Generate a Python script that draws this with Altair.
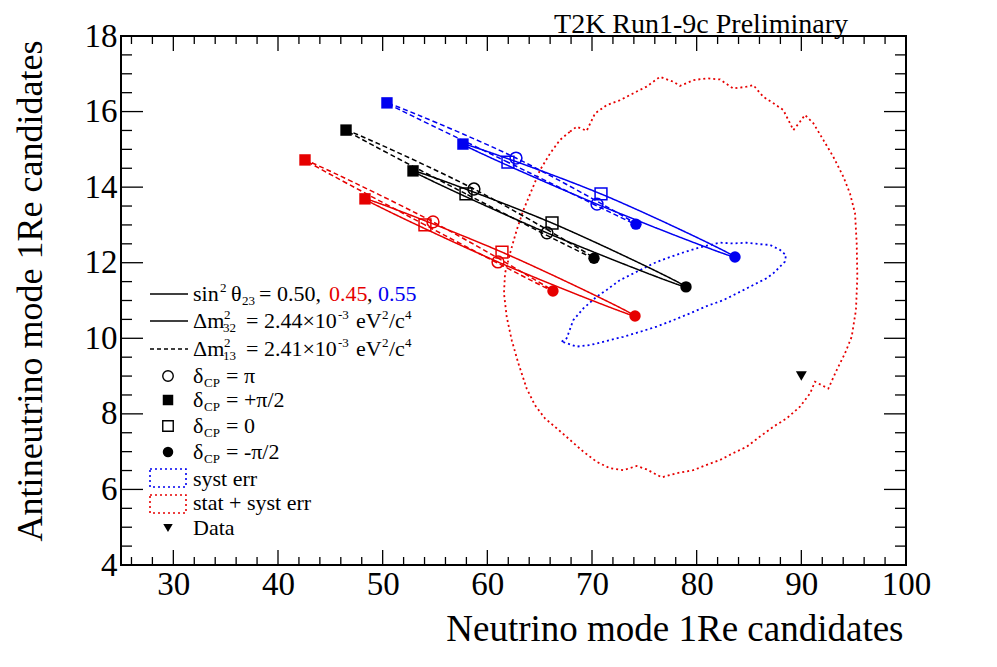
import altair as alt
import pandas as pd

RED = "#e60000"
BLUE = "#0000f0"
FONT = "Liberation Serif"

# ---------------- data ----------------
theta_labels = ["0.45", "0.50", "0.55"]
dcp_labels = ["-π/2", "0", "+π/2", "π"]

# solid: Δm²32 = 2.44e-3 ; dashed: Δm²13 = 2.41e-3   (order: -π/2, 0, +π/2, π)
nh_045_x = [74.11, 61.40, 48.31, 61.02]
nh_045_y = [10.59, 12.28, 13.69, 12.02]
ih_045_x = [66.27, 54.04, 42.58, 54.81]
ih_045_y = [11.25, 13.00, 14.72, 13.08]
nh_050_x = [78.98, 66.18, 52.90, 65.70]
nh_050_y = [11.36, 13.05, 14.43, 12.79]
ih_050_x = [70.19, 57.96, 46.50, 58.72]
ih_050_y = [12.12, 13.82, 15.51, 13.95]
nh_055_x = [83.66, 70.86, 57.67, 70.48]
nh_055_y = [12.15, 13.82, 15.14, 13.55]
ih_055_x = [74.20, 61.97, 50.41, 62.74]
ih_055_y = [13.02, 14.66, 16.23, 14.77]

stat_syst_x = [67.90, 68.54, 69.49, 70.29, 71.40, 72.68, 74.27, 75.22, 76.50, 77.77, 78.41, 79.68,
               80.96, 82.23, 83.50, 84.78, 85.41, 86.37, 87.33, 88.28, 89.24, 89.87, 90.35, 91.15,
               92.10, 93.06, 94.01, 94.65, 95.13, 95.29, 95.35, 95.22, 94.81, 94.17, 93.38, 92.58,
               91.94, 91.31, 90.83, 89.87, 88.60, 87.33, 86.05, 84.78, 83.50, 82.23, 80.96, 79.68,
               78.09, 76.66, 75.22, 74.27, 72.99, 71.72, 70.45, 69.17, 67.90, 66.62, 65.51, 64.55,
               63.76, 62.96, 62.33, 61.85, 61.59, 61.69, 62.17, 62.80, 63.44, 64.24, 65.03, 65.99, 66.94]
stat_syst_y = [15.47, 15.60, 15.49, 15.95, 16.17, 16.30, 16.53, 16.66, 16.92, 16.79, 16.68, 16.83,
               16.88, 16.85, 16.61, 16.66, 16.70, 16.39, 16.22, 16.04, 15.51, 15.73, 15.91, 15.69,
               15.25, 14.80, 14.28, 13.83, 13.31, 12.51, 11.63, 10.75, 10.04, 9.60, 9.16, 8.67,
               8.76, 8.85, 8.54, 8.19, 7.88, 7.66, 7.40, 7.13, 6.96, 6.78, 6.65, 6.51,
               6.43, 6.32, 6.53, 6.62, 6.51, 6.56, 6.73, 7.00, 7.31, 7.62, 7.88, 8.23,
               8.67, 9.34, 9.95, 10.57, 11.19, 11.72, 12.25, 12.86, 13.39, 13.92, 14.45, 14.89, 15.25]

syst_x = [67.10, 67.58, 68.21, 69.17, 70.44, 71.40, 72.67, 74.27, 75.86, 77.13, 78.72, 80.00,
          81.27, 82.23, 83.50, 84.78, 86.05, 87.00, 87.96, 88.53, 88.44, 87.80, 87.32, 86.69,
          85.41, 84.14, 82.55, 80.95, 79.36, 77.77, 76.18, 74.58, 72.99, 71.40, 69.81, 68.53, 67.58]
syst_y = [9.91, 10.00, 10.48, 10.79, 11.10, 11.28, 11.54, 11.76, 11.98, 12.12, 12.27, 12.38,
          12.47, 12.53, 12.51, 12.53, 12.49, 12.47, 12.34, 12.20, 12.03, 11.85, 11.72, 11.59,
          11.41, 11.23, 11.01, 10.85, 10.66, 10.48, 10.31, 10.17, 10.04, 9.93, 9.82, 9.78, 9.87]

data_x = [90.0]
data_y = [9.0]

x_major = [30, 40, 50, 60, 70, 80, 90, 100]
x_minor = [v for v in range(26, 100, 2) if v % 10 != 0]
y_major = [4, 6, 8, 10, 12, 14, 16, 18]
y_minor = [v / 2 for v in range(8, 37) if v % 4 != 0]

# ---------------- tables ----------------
rows = []
for theta, hier, xs, ys in [
    ("0.45", "NH", nh_045_x, nh_045_y), ("0.45", "IH", ih_045_x, ih_045_y),
    ("0.50", "NH", nh_050_x, nh_050_y), ("0.50", "IH", ih_050_x, ih_050_y),
    ("0.55", "NH", nh_055_x, nh_055_y), ("0.55", "IH", ih_055_x, ih_055_y),
]:
    for i, (xv, yv) in enumerate(zip(xs, ys)):
        rows.append(dict(x=xv, y=yv, theta=theta, hier=hier, dcp=dcp_labels[i],
                         idx=i, grp=theta + hier))
curves = pd.DataFrame(rows)
red_df = pd.DataFrame(dict(x=stat_syst_x, y=stat_syst_y, idx=range(len(stat_syst_x))))
blue_df = pd.DataFrame(dict(x=syst_x, y=syst_y, idx=range(len(syst_x))))
data_df = pd.DataFrame(dict(x=data_x, y=data_y))

W, H = 785, 529
X0, Y0 = 121, 36  # page position of plot origin

xscale = alt.Scale(domain=[25, 100], nice=False, zero=False)
yscale = alt.Scale(domain=[4, 18], nice=False, zero=False)

X = alt.X("x:Q", scale=xscale, title="Neutrino mode 1Re candidates",
          axis=alt.Axis(values=x_major, ticks=False, tickSize=0, domain=False, grid=False,
                        labelFont=FONT, labelFontSize=33, labelPadding=3, labelColor="black",
                        labelFlush=False, labelOverlap=False,
                        titleFont=FONT, titleFontSize=37, titleFontWeight="normal",
                        titleColor="black", titleAlign="right", titleBaseline="alphabetic",
                        titleX=782, titleY=75))
Y = alt.Y("y:Q", scale=yscale, title="Antineutrino mode 1Re candidates",
          axis=alt.Axis(values=y_major, ticks=False, tickSize=0, domain=False, grid=False,
                        labelFont=FONT, labelFontSize=33, labelPadding=4, labelColor="black",
                        labelFlush=False, labelOverlap=False,
                        titleFont=FONT, titleFontSize=36, titleFontWeight="normal",
                        titleColor="black", titleAngle=270, titleAlign="right",
                        titleBaseline="alphabetic", titleX=-80, titleY=4))

color = alt.Color("theta:N", scale=alt.Scale(domain=theta_labels, range=[RED, "black", BLUE]),
                  legend=None)
shape = alt.Shape("dcp:N", scale=alt.Scale(domain=dcp_labels,
                                           range=["circle", "square", "square", "circle"]),
                  legend=None)

layers = []

# ticks (inward, all four sides)
def xticks(vals, length):
    df = pd.DataFrame(dict(x=vals))
    b = alt.Chart(df).mark_rule(color="black", strokeWidth=1.3).encode(
        x=X, y=alt.value(H), y2=alt.value(H - length))
    t = alt.Chart(df).mark_rule(color="black", strokeWidth=1.3).encode(
        x=X, y=alt.value(0), y2=alt.value(length))
    return [b, t]

def yticks(vals, length):
    df = pd.DataFrame(dict(y=vals))
    l = alt.Chart(df).mark_rule(color="black", strokeWidth=1.3).encode(
        y=Y, x=alt.value(0), x2=alt.value(length))
    r = alt.Chart(df).mark_rule(color="black", strokeWidth=1.3).encode(
        y=Y, x=alt.value(W), x2=alt.value(W - length))
    return [l, r]

layers += xticks(x_major, 15) + xticks(x_minor, 8)
layers += yticks(y_major, 22) + yticks(y_minor, 11)

# contours
layers.append(alt.Chart(red_df).mark_line(interpolate="linear-closed", color=RED,
                                          strokeDash=[2, 3], strokeWidth=1.8)
              .encode(x=X, y=Y, order="idx:Q"))
layers.append(alt.Chart(blue_df).mark_line(interpolate="linear-closed", color=BLUE,
                                           strokeDash=[2, 3], strokeWidth=1.8)
              .encode(x=X, y=Y, order="idx:Q"))

# delta-CP ellipses
layers.append(alt.Chart(curves).mark_line(interpolate="cardinal-closed", strokeWidth=1.5)
              .encode(x=X, y=Y, color=color,
                      strokeDash=alt.StrokeDash("hier:N", scale=alt.Scale(
                          domain=["NH", "IH"], range=[[1, 0], [5, 3]]), legend=None),
                      detail="grp:N", order="idx:Q"))
layers.append(alt.Chart(curves).transform_filter(
    alt.FieldOneOfPredicate(field="dcp", oneOf=["-π/2", "+π/2"]))
    .mark_point(filled=True, size=130, opacity=1)
    .encode(x=X, y=Y, color=color, shape=shape))
layers.append(alt.Chart(curves).transform_filter(
    alt.FieldOneOfPredicate(field="dcp", oneOf=["0", "π"]))
    .mark_point(filled=False, size=140, strokeWidth=1.5, opacity=1)
    .encode(x=X, y=Y, color=color, shape=shape))

# data point
layers.append(alt.Chart(data_df).mark_point(shape="triangle-down", filled=True, color="black",
                                            size=120, opacity=1).encode(x=X, y=Y))

# ---------------- legend / labels (page-pixel layout) ----------------
one = pd.DataFrame(dict(a=[0]))

def txt(s, px, py, size=22, col="black", align="left"):
    return alt.Chart(one).mark_text(align=align, baseline="alphabetic", font=FONT,
                                    fontSize=size, color=col).encode(
        x=alt.value(px - X0), y=alt.value(py - Y0), text=alt.value(s))

def hline(px1, px2, py, dash=None):
    kw = dict(color="black", strokeWidth=1.5)
    if dash:
        kw["strokeDash"] = dash
    return alt.Chart(one).mark_rule(**kw).encode(
        x=alt.value(px1 - X0), x2=alt.value(px2 - X0), y=alt.value(py - Y0))

def sym(shp, filled, px, py, size=110):
    return alt.Chart(one).mark_point(shape=shp, filled=filled, color="black", size=size,
                                     strokeWidth=1.4, opacity=1).encode(
        x=alt.value(px - X0), y=alt.value(py - Y0))

def box(px1, px2, py1, py2, col):
    return alt.Chart(one).mark_rect(fillOpacity=0, stroke=col, strokeDash=[2, 3],
                                    strokeWidth=1.6).encode(
        x=alt.value(px1 - X0), x2=alt.value(px2 - X0),
        y=alt.value(py1 - Y0), y2=alt.value(py2 - Y0))

layers.append(txt("T2K Run1-9c Preliminary", 848, 33, size=28, align="right"))

# row 1
c = 294; b = c + 7
layers += [hline(150, 188, c),
           txt("sin", 193, b), txt("2", 220, b - 9, 13), txt("θ", 231, b),
           txt("23", 242, b + 4, 13), txt("= 0.50,", 259, b),
           txt("0.45", 329, b, col=RED), txt(",", 367, b), txt("0.55", 378, b, col=BLUE)]
# rows 2, 3
for c, sub, val, dash in [(321, "32", "= 2.44×10", None), (349, "13", "= 2.41×10", [4, 3])]:
    b = c + 7
    layers += [hline(150, 188, c, dash),
               txt("Δm", 193, b), txt("2", 224, b - 9, 13), txt(sub, 223, b + 4, 13),
               txt(val, 246, b), txt("-3", 338, b - 9, 13), txt("eV", 356, b),
               txt("2", 382, b - 9, 13), txt("/c", 389, b), txt("4", 405, b - 9, 13)]
# rows 4-7
for c, shp, filled, rhs in [(376, "circle", False, "= π"), (400, "square", True, "= +π/2"),
                            (426, "square", False, "= 0"), (452, "circle", True, "= -π/2")]:
    b = c + 7
    layers += [sym(shp, filled, 168, c), txt("δ", 193, b), txt("CP", 204, b + 4, 13),
               txt(rhs, 226, b)]
# rows 8-10
layers += [box(150, 186, 469, 487, BLUE), txt("syst err", 193, 486),
           box(150, 186, 495, 513, RED), txt("stat + syst err", 193, 510),
           sym("triangle-down", True, 168, 528, 90), txt("Data", 193, 535)]

chart = alt.layer(*layers).properties(
    width=W, height=H,
    autosize=alt.AutoSizeParams(type="none"),
    padding={"left": 113, "top": 28, "right": 76, "bottom": 90},
).configure(
    background="white", font=FONT,
    view=alt.ViewConfig(stroke="black", strokeWidth=2),
    text=alt.MarkConfig(font=FONT),
)

chart.save("out.html", embed_options={"renderer": "svg", "actions": False})
